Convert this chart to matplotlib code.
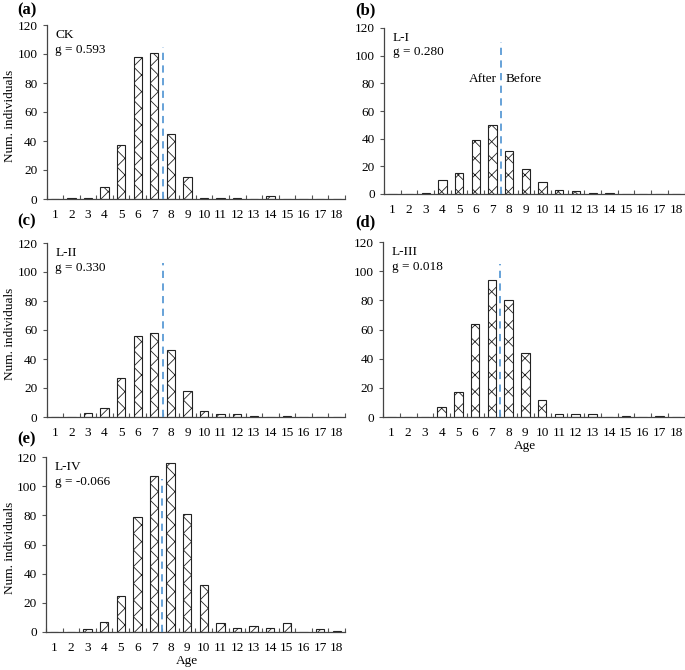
import matplotlib
matplotlib.use("Agg")
import matplotlib.pyplot as plt
import numpy as np

plt.rcParams['font.family'] = ['Liberation Serif', 'DejaVu Serif']
plt.rcParams['hatch.linewidth'] = 0.6

ages = list(range(1, 19))
ck = [0, 1, 1, 8, 37, 98, 101, 45, 15, 1, 1, 1, 0, 2, 0, 0, 0, 0]
l1 = [0, 0, 1, 10, 15, 39, 50, 31, 18, 9, 3, 2, 1, 1, 0, 0, 0, 0]
l2 = [0, 0, 3, 6, 27, 56, 58, 46, 18, 4, 2, 2, 1, 0, 1, 0, 0, 0]
l3 = [0, 0, 0, 7, 17, 64, 94, 80, 44, 12, 2, 2, 2, 0, 1, 0, 1, 0]
l4 = [0, 0, 2, 7, 25, 79, 107, 116, 81, 32, 6, 3, 4, 3, 6, 0, 2, 1]

panel_letters = ['(a)', '(b)', '(c)', '(d)', '(e)']
site_names = ['CK', 'L-I', 'L-II', 'L-III', 'L-IV']
g_values = ['0.593', '0.280', '0.330', '0.018', '-0.066']
series = [ck, l1, l2, l3, l4]
dash_tops = [105, 110, 106, 105, 105]
yticks = [0, 20, 40, 60, 80, 100, 120]

W, H = 685, 670
fig = plt.figure(figsize=(W / 100, H / 100), dpi=100)

# axes boxes in pixel coords: left, right, top(120), bottom(0)
boxes = [
    (46.5, 345, 25, 199),
    (384, 684.5, 28, 194),
    (46.5, 345, 243, 417),
    (383, 684.5, 242, 417),
    (46, 345, 457, 632),
]
letter_pos = [(17, 10), (355, 10), (17, 221), (355, 222), (17, 439)]
ylabel_on = [True, False, True, False, True]
xlabel_on = [False, False, False, True, True]

for i, (l, r, t, b) in enumerate(boxes):
    ax = fig.add_axes([l / W, 1 - b / H, (r - l) / W, (b - t) / H])
    vals = series[i]
    ax.bar(ages, vals, width=0.5, color='white', edgecolor='#222222',
           linewidth=0.8, hatch='xx', zorder=2)
    ax.set_xlim(0.5, 18.5)
    ax.set_ylim(0, 120)
    ax.set_yticks(yticks)
    ax.set_xticks(ages)
    ax.set_xticks(np.arange(0.5, 19, 1), minor=True)
    ax.tick_params(axis='x', which='major', length=0, pad=7.5, labelsize=9.5)
    ax.tick_params(axis='x', which='minor', direction='in', length=3,
                   width=0.8, color='#555555')
    ax.tick_params(axis='y', which='major', direction='out', length=3,
                   width=0.8, color='#555555', labelsize=9.5, pad=3.5)
    for s in ['top', 'right']:
        ax.spines[s].set_visible(False)
    for s in ['left', 'bottom']:
        ax.spines[s].set_color('#444444')
        ax.spines[s].set_linewidth(0.9)
    ax.plot([7.5, 7.5], [0, dash_tops[i]], color='#5B9BD5', linestyle=(0, (4, 3)),
            linewidth=1.3, clip_on=False, zorder=3)
    ax.text(0.03, 0.975, site_names[i] + '\ng = ' + g_values[i],
            transform=ax.transAxes, ha='left', va='top', fontsize=9.5,
            linespacing=1.25)
    if ylabel_on[i]:
        ax.set_ylabel('Num. individuals', fontsize=9.5)
        ax.yaxis.set_label_coords((16 - l) / (r - l), 0.48)
    if xlabel_on[i]:
        ax.set_xlabel('Age', fontsize=9.5)
        ax.xaxis.set_label_coords(0.47, -(655 - 632) / 175)
    lx, ly = letter_pos[i]
    fig.text(lx / W, 1 - ly / H, panel_letters[i],
             fontsize=12, fontweight='bold', ha='left', va='center')
    if i == 1:
        ax.text(7.25, 83, 'After', ha='right', va='center', fontsize=9.5)
        ax.text(7.8, 83, 'Before', ha='left', va='center', fontsize=9.5)

fig.savefig('out.png', dpi=100)
